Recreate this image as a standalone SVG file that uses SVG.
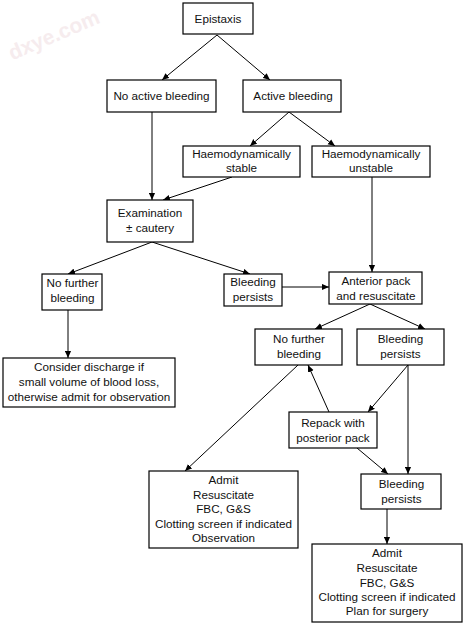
<svg xmlns="http://www.w3.org/2000/svg" width="469" height="624" viewBox="0 0 469 624">
<style>
rect{fill:#fff;stroke:#000;stroke-width:1.2}
text{font-family:"Liberation Sans",Arial,sans-serif;font-size:11.7px;fill:#111;text-anchor:middle}
#connectors line{stroke:#000;stroke-width:1;marker-end:url(#ah)}
.wm{font-size:21px;font-weight:bold;fill:#f6ecee;text-anchor:middle}
</style>
<defs>
<marker id="ah" viewBox="0 0 8 8" refX="8" refY="4" markerWidth="7" markerHeight="7" markerUnits="userSpaceOnUse" orient="auto">
<path d="M0,0.5 L8,4 L0,7.5 Z" fill="#000"/>
</marker>
</defs>
<rect x="0" y="0" width="469" height="624" style="stroke:none"/>
<text class="wm" x="54" y="42" transform="rotate(-23 54 35)">dxye.com</text>
<g id="connectors">
<line x1="217" y1="35" x2="162" y2="80"/>
<line x1="217" y1="35" x2="270" y2="80"/>
<line x1="152" y1="112" x2="152" y2="200"/>
<line x1="289" y1="112" x2="250" y2="146"/>
<line x1="289" y1="112" x2="335" y2="146"/>
<line x1="232" y1="177" x2="163" y2="200"/>
<line x1="372" y1="177" x2="372" y2="272"/>
<line x1="152" y1="242" x2="68" y2="274"/>
<line x1="152" y1="242" x2="250" y2="274"/>
<line x1="282" y1="287" x2="329" y2="287"/>
<line x1="68" y1="310" x2="68" y2="358"/>
<line x1="370" y1="304" x2="315" y2="329"/>
<line x1="370" y1="304" x2="425" y2="329"/>
<line x1="298" y1="365" x2="185" y2="471"/>
<line x1="329" y1="412" x2="308" y2="365"/>
<line x1="408" y1="365" x2="368" y2="412"/>
<line x1="408" y1="365" x2="408" y2="474"/>
<line x1="357" y1="448" x2="388" y2="474"/>
<line x1="387" y1="509" x2="387" y2="544"/>
</g>
<g id="epistaxis"><rect x="183" y="3" width="70" height="31"/><text x="218" y="23">Epistaxis</text></g>
<g id="no-active"><rect x="107" y="80" width="109" height="32"/><text x="161.5" y="100">No active bleeding</text></g>
<g id="active"><rect x="243" y="80" width="98" height="32"/><text x="293" y="100">Active bleeding</text></g>
<g id="stable"><rect x="183" y="146" width="117" height="31"/><text x="241.5" y="158">Haemodynamically</text><text x="241.5" y="172">stable</text></g>
<g id="unstable"><rect x="312" y="146" width="118" height="31"/><text x="371" y="158">Haemodynamically</text><text x="371" y="172">unstable</text></g>
<g id="exam"><rect x="107" y="200" width="86" height="42"/><text x="150" y="217">Examination</text><text x="150" y="232">± cautery</text></g>
<g id="nofurther1"><rect x="42" y="274" width="60" height="36"/><text x="72.5" y="287">No further</text><text x="72.5" y="302">bleeding</text></g>
<g id="persists1"><rect x="224" y="274" width="58" height="32"/><text x="253" y="286">Bleeding</text><text x="253" y="301">persists</text></g>
<g id="anterior"><rect x="329" y="272" width="93" height="32"/><text x="376" y="285">Anterior pack</text><text x="376" y="300">and resuscitate</text></g>
<g id="discharge"><rect x="3" y="358" width="172" height="49"/><text x="89" y="371">Consider discharge if</text><text x="89" y="386">small volume of blood loss,</text><text x="89" y="401">otherwise admit for observation</text></g>
<g id="nofurther2"><rect x="255" y="329" width="87" height="36"/><text x="299" y="343">No further</text><text x="299" y="358">bleeding</text></g>
<g id="persists2"><rect x="357" y="329" width="87" height="36"/><text x="400.5" y="343">Bleeding</text><text x="400.5" y="358">persists</text></g>
<g id="repack"><rect x="289" y="412" width="88" height="36"/><text x="333" y="427">Repack with</text><text x="333" y="442">posterior pack</text></g>
<g id="persists3"><rect x="361" y="474" width="80" height="35"/><text x="401.5" y="488">Bleeding</text><text x="401.5" y="503">persists</text></g>
<g id="admit1"><rect x="149" y="471" width="149" height="77"/><text x="223.5" y="484">Admit</text><text x="223.5" y="499">Resuscitate</text><text x="223.5" y="513">FBC, G&amp;S</text><text x="223.5" y="528">Clotting screen if indicated</text><text x="223.5" y="542">Observation</text></g>
<g id="admit2"><rect x="312" y="544" width="150" height="78"/><text x="387" y="557">Admit</text><text x="387" y="572">Resuscitate</text><text x="387" y="587">FBC, G&amp;S</text><text x="387" y="601">Clotting screen if indicated</text><text x="387" y="615">Plan for surgery</text></g>
</svg>
